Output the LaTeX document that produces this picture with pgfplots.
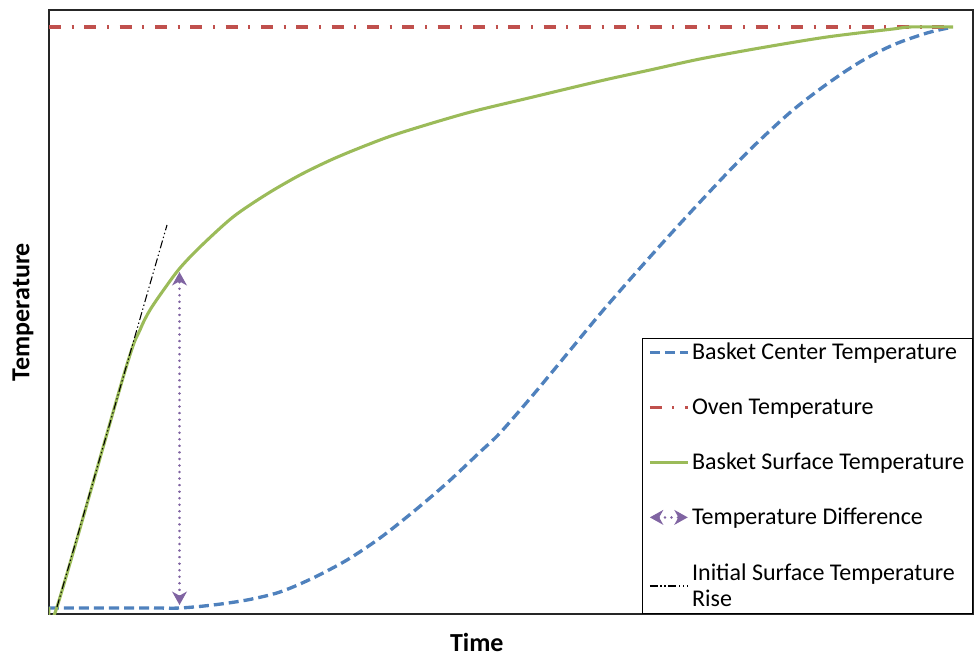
\documentclass[border=0pt]{standalone}
\usepackage{fontspec}
\setmainfont{Carlito}
\usepackage{pgfplots}
\pgfplotsset{compat=1.18}
\usetikzlibrary{arrows.meta}
\definecolor{xblue}{HTML}{4F81BD}
\definecolor{xred}{HTML}{C0504D}
\definecolor{xgreen}{HTML}{9BBB59}
\definecolor{xpurple}{HTML}{8064A2}
\begin{document}
\begin{tikzpicture}
\begin{axis}[
  name=ax,
  scale only axis, width=693pt, height=453pt,
  xmin=49, xmax=973, ymin=0, ymax=604,
  xtick=\empty, ytick=\empty,
  axis line style={line width=1pt, black!85},
  xlabel={\bfseries Time}, ylabel={\bfseries Temperature},
  label style={font=\fontsize{19.5}{23}\selectfont},
  xlabel style={at={(axis description cs:0.463,0)}, anchor=center, yshift=-21.5pt},
  ylabel style={at={(axis description cs:0,0.5)}, anchor=center, yshift=19.5pt},
  legend cell align=left,
  legend style={at={(1,0)}, anchor=south east, draw=black, line width=1pt,
    font=\fontsize{18}{20}\selectfont, row sep=23.5pt, inner xsep=4pt, inner ysep=1.5pt,
    cells={align=left}},
  legend image code/.code={\draw[#1] (0cm,0cm) -- (1cm,0cm);},
]
\addplot[xblue, line width=2.5pt, dash pattern=on 7.5pt off 3.75pt, smooth, tension=0.5] coordinates {
(49,6) (150,6) (180,6) (213,9) (247,14) (280,22) (313,36) (347,54) (380,76) (413,102) (447,131) (480,162) (500,181) (533,219) (567,260) (600,300) (633,338) (667,376) (700,412) (732,446) (760,474) (793,504) (827,530) (860,552) (893,569) (927,581) (953,587)};
\addlegendentry{Basket Center Temperature}
\addplot[xred, line width=2.3pt, dash pattern=on 9pt off 8pt on 1.5pt off 8pt] coordinates {(49,587) (953,587)};
\addlegendentry{Oven Temperature}
\addplot[xgreen, line width=2.3pt, smooth, tension=0.5] coordinates {
(49,7) (57,7) (125,243) (140,284) (150,304) (165,326) (180,346) (200,367) (233,397) (267,420) (300,439) (333,455) (367,469) (400,481) (467,501) (533,517) (600,533) (650,544) (700,555) (760,566) (827,577) (893,585) (910,587) (953,587)};
\addlegendentry{Basket Surface Temperature}
\addplot[xpurple, line width=2pt, dash pattern=on 0.01pt off 4.9pt, line cap=round,
  {Stealth[length=10pt,width=11pt,inset=3pt]}-{Stealth[length=10pt,width=11pt,inset=3pt]},
  legend image code/.code={\draw[xpurple, line width=2pt, dash pattern=on 0.01pt off 4.9pt, line cap=round,
  {Stealth[length=10pt,width=11pt,inset=3pt]}-{Stealth[length=10pt,width=11pt,inset=3pt]}] (0cm,0cm) -- (1cm,0cm);}
  ] coordinates {(179.5,9) (179.5,342)};
\addlegendentry{Temperature Difference}
\addplot[black, line width=0.8pt, dash pattern=on 6pt off 2pt on 1pt off 2pt on 1pt off 2pt] coordinates {(57,7) (167,389)};
\addlegendentry{Initial Surface Temperature\\Rise}
\end{axis}
\pgfresetboundingbox
\path ([xshift=-36.75pt,yshift=-32.25pt]ax.south west) rectangle ([xshift=0.75pt,yshift=7.5pt]ax.north east);
\end{tikzpicture}
\end{document}
